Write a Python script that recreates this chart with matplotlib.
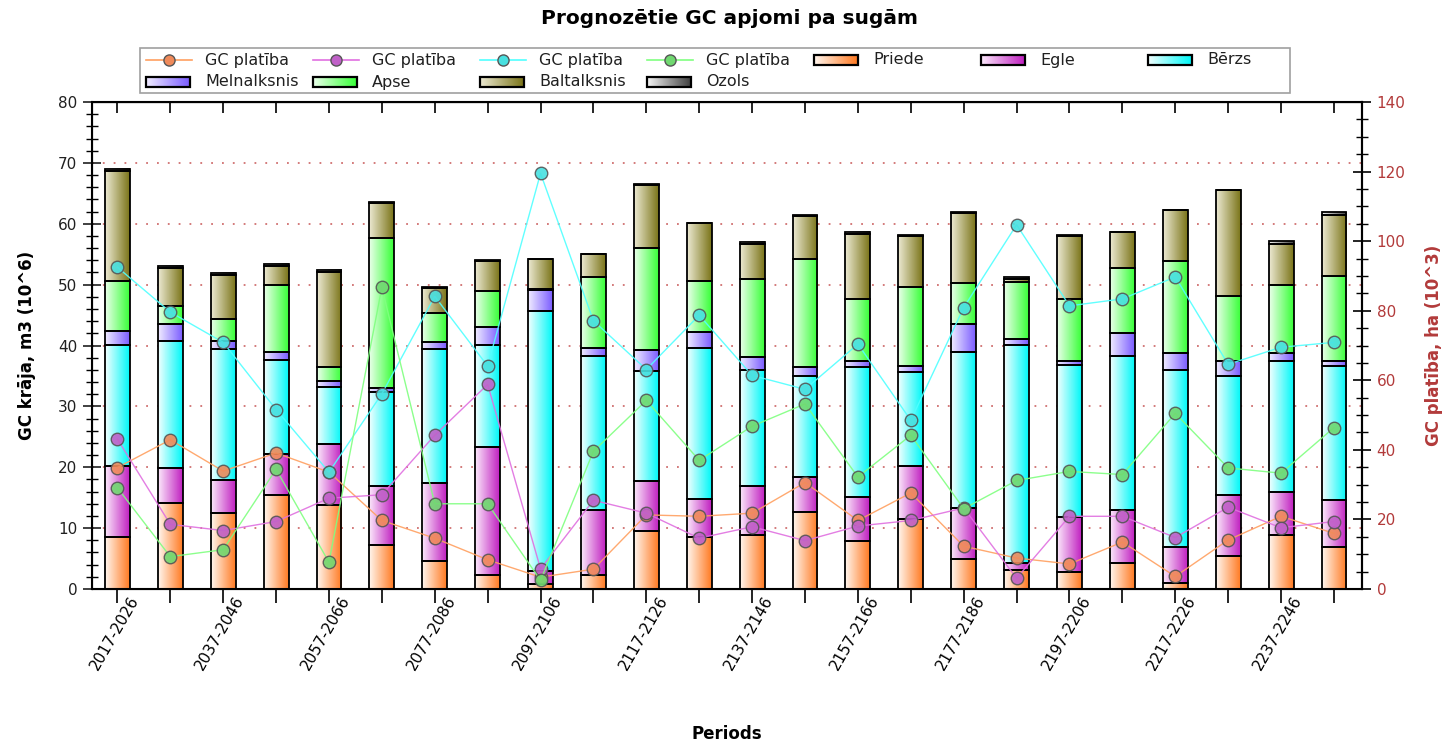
import matplotlib
matplotlib.use('Agg')
import matplotlib.pyplot as plt
import matplotlib.transforms as mtransforms
import numpy as np
from matplotlib.colors import LinearSegmentedColormap
from matplotlib.patches import Rectangle
from matplotlib.ticker import MultipleLocator

plt.rcParams['font.family'] = ['DejaVu Sans']

periods = ['2017-2026', '2027-2036', '2037-2046', '2047-2056', '2057-2066', '2067-2076',
           '2077-2086', '2087-2096', '2097-2106', '2107-2116', '2117-2126', '2127-2136',
           '2137-2146', '2147-2156', '2157-2166', '2167-2176', '2177-2186', '2187-2196',
           '2197-2206', '2207-2216', '2217-2226', '2227-2236', '2237-2246', '2247-2256']

# Stock by species, m3 (10^6)
priede = [8.5, 14.15, 12.45, 15.4, 13.85, 7.3, 4.65, 2.3, 0.8, 2.3, 9.45, 8.5,
          8.8, 12.65, 7.95, 11.55, 4.95, 3.1, 2.85, 4.3, 1.0, 5.5, 8.8, 6.95]
egle = [11.65, 5.75, 5.4, 6.85, 9.95, 9.6, 12.8, 21.05, 2.1, 10.7, 8.3, 6.35,
        8.1, 5.75, 7.15, 8.65, 8.35, 1.2, 8.95, 8.7, 5.95, 9.9, 7.1, 7.75]
berzs = [19.95, 20.85, 21.55, 15.45, 9.4, 15.5, 22.05, 16.75, 42.7, 25.2, 18.05, 24.7,
         19.05, 16.6, 21.4, 15.5, 25.7, 35.8, 25.0, 25.35, 29.0, 19.65, 21.55, 21.9]
melnalksnis = [2.2, 2.8, 1.4, 1.2, 1.0, 0.55, 1.0, 3.0, 3.55, 1.35, 3.45, 2.65,
               2.1, 1.5, 1.0, 0.9, 4.5, 1.0, 0.65, 3.65, 2.75, 2.45, 1.25, 0.85]
apse = [8.3, 3.0, 3.5, 11.1, 2.3, 24.7, 4.8, 5.8, 0.15, 11.65, 16.7, 8.4,
        12.85, 17.7, 10.1, 12.95, 6.75, 9.25, 10.15, 10.7, 15.1, 10.7, 11.3, 14.0]
baltalksnis = [18.0, 6.1, 7.2, 3.0, 15.55, 5.75, 4.2, 5.0, 4.85, 3.8, 10.4, 9.5,
               5.7, 7.15, 10.7, 8.5, 11.55, 0.6, 10.45, 5.95, 8.4, 17.3, 6.75, 10.05]
ozols = [0.4, 0.4, 0.4, 0.4, 0.4, 0.1, 0.1, 0.1, 0.1, 0.1, 0.1, 0.05,
         0.4, 0.05, 0.35, 0.05, 0.05, 0.3, 0.05, 0.05, 0.05, 0.05, 0.45, 0.45]

# Clear-cut area, ha (10^3) - four series
gc_orange = [34.9, 42.9, 33.9, 39.1, 33.6, 19.7, 14.6, 8.4, 3.4, 5.7, 21.3, 20.9,
             21.8, 30.6, 19.7, 27.6, 12.3, 8.9, 7.2, 13.5, 3.6, 14.1, 20.9, 16.0]
gc_magenta = [43.1, 18.6, 16.8, 19.4, 26.1, 27.1, 44.2, 58.8, 5.8, 25.5, 21.8, 14.6,
              17.9, 13.9, 18.1, 19.7, 23.3, 3.1, 20.9, 20.9, 14.8, 23.5, 17.6, 19.4]
gc_cyan = [92.5, 79.6, 70.9, 51.6, 33.6, 56.1, 84.1, 64.1, 119.5, 77.1, 63.1, 78.7,
           61.4, 57.4, 70.4, 48.5, 80.9, 104.7, 81.4, 83.4, 89.7, 64.6, 69.5, 70.9]
gc_green = [29.1, 9.3, 11.3, 34.4, 7.7, 86.7, 24.5, 24.5, 2.5, 39.6, 54.2, 37.0,
            46.8, 53.2, 32.2, 44.2, 23.1, 31.2, 33.8, 32.9, 50.5, 34.8, 33.3, 46.4]

species_names = ['Priede', 'Egle', 'Bērzs', 'Melnalksnis', 'Apse', 'Baltalksnis', 'Ozols']
species_vals = [priede, egle, berzs, melnalksnis, apse, baltalksnis, ozols]
species_cols = [('#fff6ee', '#ff7a22'), ('#fbe8fb', '#c020c0'), ('#f2ffff', '#00f8f8'),
                ('#f0ecff', '#7a5cff'), ('#eaffea', '#38ff38'), ('#ece9d2', '#7a7418'),
                ('#f4f4f4', '#404040')]

line_series = [gc_orange, gc_magenta, gc_cyan, gc_green]
line_cols = ['#ffa060', '#e070e0', '#50ffff', '#80ff80']
marker_cols = ['#f08a5a', '#c060c8', '#48e0e0', '#70d870']
line_label = 'GC platība'

W, H = 1445, 745
fig = plt.figure(figsize=(W / 100, H / 100), dpi=100)
ax = fig.add_axes([92 / W, 1 - 589 / H, 1270 / W, 487 / H])
ax2 = ax.twinx()

x = np.arange(len(periods))
width = 0.47
bottom = np.zeros(len(x))
grad = np.linspace(0, 1, 64).reshape(1, -1)
for name, vals, (c0, c1) in zip(species_names, species_vals, species_cols):
    vals = np.array(vals)
    cmap = LinearSegmentedColormap.from_list(name, [c0, c1])
    bars = ax.bar(x, vals, width, bottom=bottom, facecolor='none', edgecolor='black',
                  linewidth=1.3, zorder=3)
    for rect in bars:
        x0, y0 = rect.get_x(), rect.get_y()
        w, h = rect.get_width(), rect.get_height()
        ax.imshow(grad, cmap=cmap, extent=[x0, x0 + w, y0, y0 + h], aspect='auto',
                  zorder=2, interpolation='bilinear', origin='lower')
    bottom += vals

ax.set_xlim(-0.48, 23.53)
ax.set_ylim(0, 80)
ax.set_aspect('auto')
ax.yaxis.set_major_locator(MultipleLocator(10))
ax.yaxis.set_minor_locator(MultipleLocator(2))
ax.set_axisbelow(True)
ax.yaxis.grid(True, which='major', linestyle=(0, (1, 5)), color='#d07070', linewidth=1.3)
ax.tick_params(axis='y', which='major', direction='inout', length=13, width=1.2,
               labelsize=11, pad=4, colors='#202020')
ax.tick_params(axis='y', which='minor', direction='inout', length=8, width=1.0)

ax.set_xticks(x)
ax.set_xticklabels([p if i % 2 == 0 else '' for i, p in enumerate(periods)],
                   rotation=60, ha='right', rotation_mode='anchor', fontsize=11)
ax.tick_params(axis='x', which='major', direction='out', length=10, width=1.2, pad=1)
offset = mtransforms.ScaledTranslation(0.11, 0.11, fig.dpi_scale_trans)
for lab in ax.get_xticklabels():
    lab.set_transform(lab.get_transform() + offset)

secx = ax.secondary_xaxis('top')
secx.set_xticks(x)
secx.tick_params(direction='in', length=8, width=1.2, labeltop=False)

for s in ax.spines.values():
    s.set_linewidth(1.5)

for vals, lc, mc in zip(line_series, line_cols, marker_cols):
    ax2.plot(x, vals, color=lc, linewidth=1.0, marker='o', markersize=9,
             markerfacecolor=mc, markeredgecolor='#555555', markeredgewidth=1.0,
             alpha=0.9, zorder=4)
ax2.set_ylim(0, 140)
ax2.yaxis.set_major_locator(MultipleLocator(20))
ax2.yaxis.set_minor_locator(MultipleLocator(5))
rc = '#b23a3a'
ax2.tick_params(axis='y', which='major', direction='inout', length=13, width=1.2,
                labelsize=11, pad=4, labelcolor=rc)
ax2.tick_params(axis='y', which='minor', direction='inout', length=8, width=1.0)
ax2.spines['right'].set_linewidth(1.5)

ax.set_ylabel('GC krāja, m3 (10^6)', fontsize=12, fontweight='bold', labelpad=16)
ax2.set_ylabel('GC platība, ha (10^3)', fontsize=12, fontweight='bold', color=rc,
               labelpad=14)
ax.set_xlabel('Periods', fontsize=12, fontweight='bold')
ax.xaxis.set_label_coords(0.5, -0.279)
fig.text(0.505, 0.975, 'Prognozētie GC apjomi pa sugām', ha='center', va='center',
         fontsize=14.5, fontweight='bold')

# Legend drawn in a pixel-coordinate overlay axes
lax = fig.add_axes([0, 0, 1, 1], zorder=10)
lax.add_patch(Rectangle((140, 48), 1150, 45, facecolor='white', edgecolor='#a0a0a0',
                        linewidth=1.2))
leg_items = ([('line', i) for i in range(4)] + [('patch', 0), ('patch', 1), ('patch', 2)]
             + [('patch', 3), ('patch', 4), ('patch', 5), ('patch', 6)])
for k, (kind, idx) in enumerate(leg_items):
    col, row = k % 7, k // 7
    hx = 146 + 167 * col
    hy = 60 + 22 * row
    if kind == 'line':
        lax.plot([hx, hx + 46], [hy, hy], color=line_cols[idx], linewidth=1.2)
        lax.plot([hx + 23], [hy], marker='o', markersize=8,
                 markerfacecolor=marker_cols[idx], markeredgecolor='#555555',
                 markeredgewidth=1.0)
        label = line_label
    else:
        c0, c1 = species_cols[idx]
        cmap = LinearSegmentedColormap.from_list('lg', [c0, c1])
        lax.imshow(grad, cmap=cmap, extent=[hx, hx + 44, hy + 5, hy - 5], aspect='auto',
                   interpolation='bilinear', origin='lower', zorder=2)
        lax.add_patch(Rectangle((hx, hy - 5), 44, 10, facecolor='none',
                                edgecolor='black', linewidth=1.6, zorder=3))
        label = species_names[idx]
    lax.text(hx + 59, hy, label, va='center', ha='left', fontsize=11.5, color='#202020')
lax.set_xlim(0, W)
lax.set_ylim(H, 0)
lax.axis('off')

fig.savefig('out.png', dpi=100)
